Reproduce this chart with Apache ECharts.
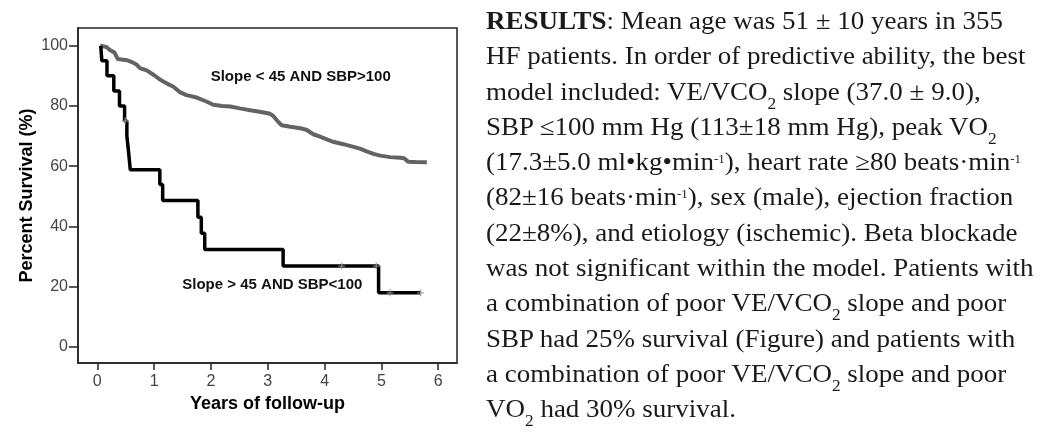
<!DOCTYPE html>
<html>
<head>
<meta charset="utf-8">
<script src="https://cdn.jsdelivr.net/npm/echarts@6/dist/echarts.min.js"></script>
<style>
  html, body { margin: 0; padding: 0; background: #fff; }
  #wrap { position: relative; width: 1056px; height: 436px; overflow: hidden; }
  #chart { position: absolute; left: 0; top: 0; width: 1056px; height: 436px; }
  .abstract {
    position: absolute; left: 486px; top: 3px;
    font-family: "Liberation Serif", "DejaVu Serif", serif;
    font-size: 25px; line-height: 35.3px; color: #1a1a1a;
    white-space: nowrap;
    transform: scaleX(1.08); transform-origin: 0 0;
  }
  .abstract sub { font-size: 16px; line-height: 0; vertical-align: -9px; }
  .abstract sup { font-size: 12px; line-height: 0; vertical-align: 7px; }
</style>
</head>
<body>
<div id="wrap">
  <div id="chart"></div>
  <div class="abstract">
    <b>RESULTS</b>: Mean age was 51 ± 10 years in 355<br>
    HF patients. In order of predictive ability, the best<br>
    model included: VE/VCO<sub>2</sub> slope (37.0 ± 9.0),<br>
    SBP ≤100 mm Hg (113±18 mm Hg), peak VO<sub>2</sub><br>
    (17.3±5.0 ml•kg•min<sup>-1</sup>), heart rate ≥80 beats·min<sup>-1</sup><br>
    (82±16 beats·min<sup>-1</sup>), sex (male), ejection fraction<br>
    (22±8%), and etiology (ischemic). Beta blockade<br>
    was not significant within the model. Patients with<br>
    a combination of poor VE/VCO<sub>2</sub> slope and poor<br>
    SBP had 25% survival (Figure) and patients with<br>
    a combination of poor VE/VCO<sub>2</sub> slope and poor<br>
    VO<sub>2</sub> had 30% survival.
  </div>
</div>
<script>
// 刻度
const xTicks = [0, 1, 2, 3, 4, 5, 6];
const yTicks = [0, 20, 40, 60, 80, 100];

// Slope < 45 AND SBP>100 (grey curve)
const goodYears = [0.05, 0.16, 0.22, 0.30, 0.36, 0.52, 0.63, 0.70, 0.75, 0.87, 1.00, 1.10,
  1.22, 1.34, 1.45, 1.57, 1.75, 1.93, 2.04, 2.20, 2.34, 2.51, 2.69, 2.86, 3.04, 3.10, 3.19,
  3.24, 3.40, 3.57, 3.68, 3.80, 3.92, 4.05, 4.15, 4.33, 4.51, 4.62, 4.74, 4.86, 4.98, 5.15,
  5.33, 5.40, 5.47, 5.60, 5.80];
const goodSurvival = [100, 99.6, 98.6, 97.8, 95.6, 95.2, 94.4, 93.6, 92.6, 91.8, 90.2, 88.8,
  87.5, 86.4, 84.6, 83.6, 82.8, 81.4, 80.4, 80.0, 79.8, 79.2, 78.6, 78.1, 77.4, 76.6, 74.6,
  73.6, 73.1, 72.6, 72.1, 70.6, 69.8, 68.8, 68.1, 67.3, 66.4, 65.8, 64.9, 64.1, 63.5, 63.0,
  62.8, 62.6, 61.5, 61.4, 61.3];

// Slope > 45 AND SBP<100 (black step curve)
const poorYears = [0.06, 0.08, 0.17, 0.29, 0.39, 0.48, 0.52, 0.55, 0.58, 1.10, 1.15, 1.77,
  1.83, 1.89, 3.27, 4.95, 5.69];
const poorSurvival = [100, 95.0, 90.0, 85.0, 80.0, 75.0, 70.0, 64.7, 58.8, 53.9, 48.6, 43.0,
  37.7, 32.3, 26.8, 17.9, 17.9];

// censored cases on the black curve
const censorYears = [0.49, 4.30, 4.91, 5.15, 5.69];
const censorSurvival = [75.0, 26.8, 26.8, 17.9, 17.9];

const labelGood = "Slope < 45 AND SBP>100";
const labelPoor = "Slope > 45 AND SBP<100";
const labelGoodAt = [3.58, 89.6];
const labelPoorAt = [3.08, 20.5];

const pairs = (xs, ys) => xs.map((x, i) => [x, ys[i]]);

const chart = echarts.init(document.getElementById("chart"), null, { renderer: "canvas" });

const tickLabel = { color: "#444", fontSize: 16, fontFamily: "Liberation Sans, Arial, sans-serif" };
const titleFont = { color: "#000", fontSize: 18, fontWeight: "bold", fontFamily: "Liberation Sans, Arial, sans-serif" };
const frameLine = { color: "#222", width: 1.5 };

chart.setOption({
  animation: false,
  backgroundColor: "#fff",
  grid: {
    left: 78, top: 28, right: 599, bottom: 73,
    show: true, borderColor: "#222", borderWidth: 1.5, backgroundColor: "#fff"
  },
  xAxis: {
    type: "value", min: -0.34, max: 6.33,
    name: "Years of follow-up", nameLocation: "middle", nameGap: 32,
    nameTextStyle: titleFont,
    axisLine: { show: true, onZero: false, lineStyle: frameLine },
    splitLine: { show: false },
    axisTick: { show: true, inside: false, length: 7, customValues: xTicks, lineStyle: { color: "#222", width: 1.5 } },
    axisLabel: { ...tickLabel, margin: 11, customValues: xTicks }
  },
  yAxis: {
    type: "value", min: -5.4, max: 105.9,
    name: "Percent Survival (%)", nameLocation: "middle", nameGap: 42,
    nameTextStyle: titleFont,
    axisLine: { show: true, onZero: false, lineStyle: frameLine },
    splitLine: { show: false },
    axisTick: { show: true, inside: false, length: 9, customValues: yTicks, lineStyle: { color: "#222", width: 1.5 } },
    axisLabel: { ...tickLabel, margin: 10, customValues: yTicks }
  },
  series: [
    {
      name: labelGood, type: "line", data: pairs(goodYears, goodSurvival),
      showSymbol: false, lineStyle: { color: "#636363", width: 4 }, z: 2
    },
    {
      name: labelPoor, type: "line", step: "end", data: pairs(poorYears, poorSurvival),
      showSymbol: false, lineStyle: { color: "#000", width: 3.5 }, z: 3
    },
    {
      name: "censored", type: "scatter", data: pairs(censorYears, censorSurvival),
      symbol: "path://M4,0H6V4H10V6H6V10H4V6H0V4H4Z", symbolSize: 7,
      itemStyle: { color: "#999" }, z: 4
    }
  ]
});

// 曲线标注，按数据坐标定位
const posGood = chart.convertToPixel({ gridIndex: 0 }, labelGoodAt);
const posPoor = chart.convertToPixel({ gridIndex: 0 }, labelPoorAt);
const noteStyle = { fill: "#111", fontSize: 15, fontWeight: "bold", fontFamily: "Liberation Sans, Arial, sans-serif", align: "center", verticalAlign: "middle" };
chart.setOption({
  graphic: [
    { type: "text", x: posGood[0], y: posGood[1], z: 10, style: { ...noteStyle, text: labelGood } },
    { type: "text", x: posPoor[0], y: posPoor[1], z: 10, style: { ...noteStyle, text: labelPoor } }
  ]
});
</script>
</body>
</html>
